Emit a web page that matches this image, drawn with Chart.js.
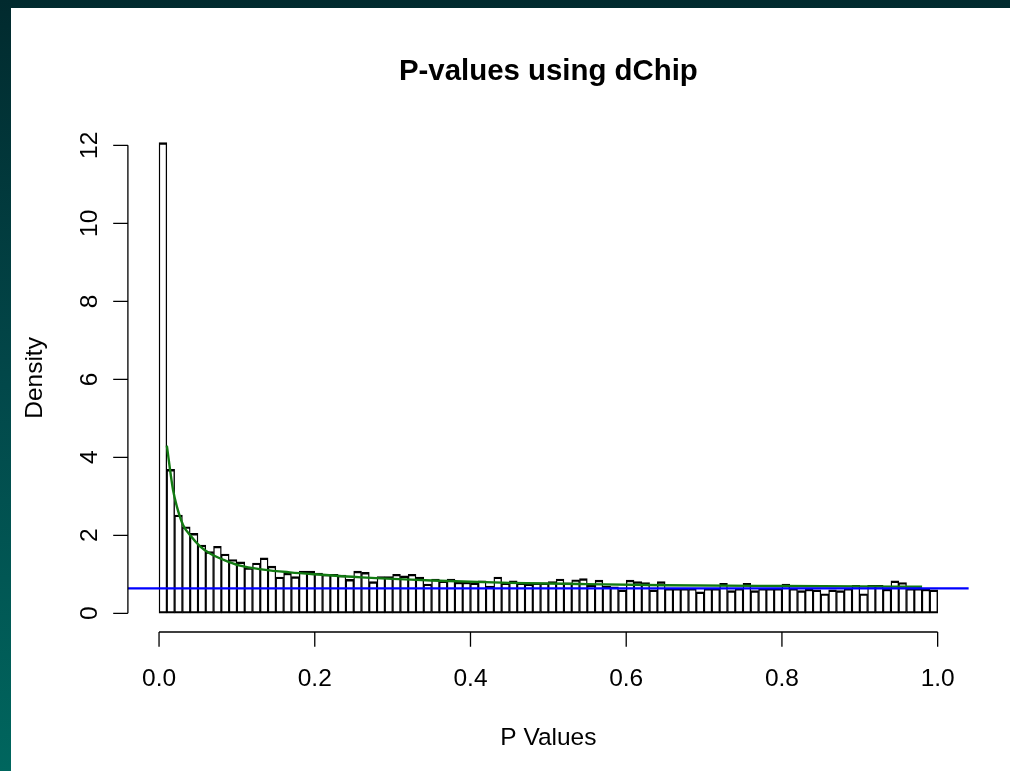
<!DOCTYPE html>
<html>
<head>
<meta charset="utf-8">
<title>P-values using dChip</title>
<script src="https://cdn.jsdelivr.net/npm/chart.js@4.4.1/dist/chart.umd.min.js"></script>
<style>
  html, body { margin: 0; padding: 0; }
  body {
    width: 1010px; height: 771px; overflow: hidden;
    background: linear-gradient(to bottom, #012a2e 0%, #02484a 50%, #00665e 100%);
  }
  #panel {
    position: absolute; left: 11px; top: 8px;
    width: 999px; height: 763px; background: #ffffff;
  }
</style>
</head>
<body>
<div id="panel"><canvas id="myChart" width="999" height="763"></canvas></div>
<script>
// histogram densities, one per bin of width 0.01 from 0 to 1
var density = [
  12.07, 3.69, 2.52, 2.22, 2.05, 1.75, 1.58, 1.72, 1.52, 1.38,
  1.32, 1.17, 1.29, 1.42, 1.21, 0.93, 1.03, 0.94, 1.08, 1.08,
  1.03, 1.00, 1.00, 0.98, 0.87, 1.08, 1.05, 0.81, 0.94, 0.94,
  1.00, 0.96, 1.00, 0.93, 0.75, 0.88, 0.83, 0.88, 0.80, 0.80,
  0.78, 0.83, 0.70, 0.93, 0.78, 0.83, 0.78, 0.75, 0.78, 0.78,
  0.81, 0.88, 0.78, 0.86, 0.89, 0.73, 0.85, 0.70, 0.68, 0.60,
  0.85, 0.81, 0.79, 0.60, 0.81, 0.64, 0.64, 0.64, 0.64, 0.55,
  0.64, 0.64, 0.77, 0.58, 0.64, 0.77, 0.58, 0.64, 0.64, 0.64,
  0.75, 0.64, 0.58, 0.62, 0.60, 0.50, 0.60, 0.58, 0.64, 0.72,
  0.50, 0.72, 0.72, 0.62, 0.83, 0.79, 0.64, 0.64, 0.62, 0.60
];
var binWidth = 0.01;

// fitted curve (green)
var fitX = [0.01, 0.018, 0.023, 0.031, 0.04, 0.053, 0.065, 0.083, 0.104, 0.134,
            0.168, 0.2, 0.26, 0.35, 0.45, 0.54, 0.65, 0.8, 0.9, 0.98];
var fitY = [4.3, 3.16, 2.73, 2.26, 2.0, 1.71, 1.54, 1.37, 1.22, 1.12,
            1.05, 1.0, 0.92, 0.84, 0.78, 0.75, 0.72, 0.70, 0.69, 0.68];

// horizontal reference line (blue)
var ablineLevel = 0.64;

var xTicks = [0, 0.2, 0.4, 0.6, 0.8, 1.0];
var xTickLabels = ['0.0', '0.2', '0.4', '0.6', '0.8', '1.0'];
var yTicks = [0, 2, 4, 6, 8, 10, 12];
var yTickLabels = ['0', '2', '4', '6', '8', '10', '12'];

var xRange = [-0.04, 1.04];
var yRange = [-0.48, 12.55];

var FONT = '"Liberation Sans", Arial, sans-serif';

var bars = density.map(function (d, i) {
  return { x: +(i * binWidth + binWidth / 2).toFixed(3), y: d };
});
var fit = fitX.map(function (x, i) { return { x: x, y: fitY[i] }; });
var abline = xRange.map(function (x) { return { x: x, y: ablineLevel }; });

// R style axes: lines only over the tick range, outward ticks, rotated y labels
var rAxes = {
  id: 'rAxes',
  afterDraw: function (chart) {
    var ctx = chart.ctx, xs = chart.scales.x, ys = chart.scales.y, a = chart.chartArea;
    var tl = 14.7;
    ctx.save();
    ctx.strokeStyle = '#000';
    ctx.lineWidth = 1.3;
    ctx.beginPath();
    ctx.moveTo(xs.getPixelForValue(xTicks[0]), a.bottom);
    ctx.lineTo(xs.getPixelForValue(xTicks[xTicks.length - 1]), a.bottom);
    xTicks.forEach(function (t) {
      var px = xs.getPixelForValue(t);
      ctx.moveTo(px, a.bottom);
      ctx.lineTo(px, a.bottom + tl);
    });
    ctx.moveTo(a.left, ys.getPixelForValue(yTicks[0]));
    ctx.lineTo(a.left, ys.getPixelForValue(yTicks[yTicks.length - 1]));
    yTicks.forEach(function (t) {
      var py = ys.getPixelForValue(t);
      ctx.moveTo(a.left, py);
      ctx.lineTo(a.left - tl, py);
    });
    ctx.stroke();

    ctx.fillStyle = '#000';
    ctx.font = '24.5px ' + FONT;
    ctx.textAlign = 'center';
    ctx.textBaseline = 'alphabetic';
    xTicks.forEach(function (t, i) {
      ctx.fillText(xTickLabels[i], xs.getPixelForValue(t), a.bottom + 53.5);
    });
    yTicks.forEach(function (t, i) {
      ctx.save();
      ctx.translate(a.left - 31, ys.getPixelForValue(t));
      ctx.rotate(-Math.PI / 2);
      ctx.fillText(yTickLabels[i], 0, 0);
      ctx.restore();
    });

    // axis titles and main title
    var cx = (a.left + a.right) / 2, cy = (a.top + a.bottom) / 2;
    ctx.fillText('P Values', cx, a.bottom + 113);
    ctx.save();
    ctx.translate(a.left - 86, cy);
    ctx.rotate(-Math.PI / 2);
    ctx.fillText('Density', 0, 0);
    ctx.restore();
    ctx.font = 'bold 29.4px ' + FONT;
    ctx.fillText('P-values using dChip', cx, a.top - 44);
    ctx.restore();
  }
};

var ctx = document.getElementById('myChart').getContext('2d');
var chart = new Chart(ctx, {
  type: 'bar',
  data: {
    datasets: [{
      type: 'line',
      data: abline,
      borderColor: '#0000ff',
      borderWidth: 2.2,
      pointRadius: 0,
      fill: false,
      order: 1
    }, {
      type: 'line',
      data: fit,
      borderColor: '#127a12',
      borderWidth: 2.4,
      pointRadius: 0,
      cubicInterpolationMode: 'monotone',
      fill: false,
      order: 2
    }, {
      type: 'bar',
      data: bars,
      backgroundColor: '#ffffff',
      borderColor: '#000000',
      borderWidth: { top: 2.4, bottom: 2.4, left: 1.4, right: 1.4 },
      borderSkipped: false,
      barPercentage: 1,
      categoryPercentage: 1,
      order: 3
    }]
  },
  options: {
    responsive: false,
    animation: false,
    layout: { padding: { top: 115.9, right: 41.2, left: 0, bottom: 0 } },
    plugins: { legend: { display: false }, tooltip: { enabled: false }, title: { display: false } },
    scales: {
      x: {
        type: 'linear',
        offset: false,
        min: xRange[0], max: xRange[1],
        ticks: { display: false },
        grid: { display: false, offset: false },
        border: { display: false },
        afterFit: function (s) { s.height = 139; }
      },
      y: {
        type: 'linear',
        min: yRange[0], max: yRange[1],
        ticks: { display: false },
        grid: { display: false },
        border: { display: false },
        afterFit: function (s) { s.width = 116.9; }
      }
    }
  },
  plugins: [rAxes]
});
</script>
</body>
</html>
